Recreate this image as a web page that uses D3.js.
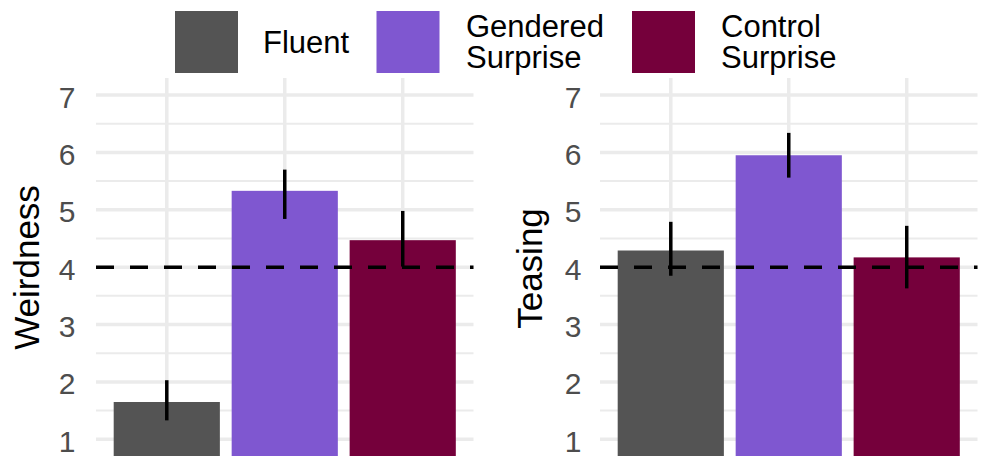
<!DOCTYPE html>
<html>
<head>
<meta charset="utf-8">
<script src="https://cdn.jsdelivr.net/npm/d3@7"></script>
<style>
  html, body { margin: 0; padding: 0; background: #fff; }
  svg { display: block; font-family: "Liberation Sans", Arial, Helvetica, sans-serif; }
</style>
</head>
<body>
<svg id="chart" width="987" height="456"></svg>
<script>
// Conditions shown in both panels
const conditions = ["Fluent", "Gendered Surprise", "Control Surprise"];
const conditionColors = ["#545454", "#7F57D0", "#75003B"];

// Mean ratings and interval bounds per condition
const weirdnessMean  = [1.65, 5.33, 4.47];
const weirdnessLower = [1.33, 4.84, 4.01];
const weirdnessUpper = [2.03, 5.70, 4.98];

const teasingMean  = [4.29, 5.95, 4.17];
const teasingLower = [3.85, 5.56, 3.63];
const teasingUpper = [4.79, 6.34, 4.72];

const yTicks = [1, 2, 3, 4, 5, 6, 7];
const yMinorTicks = [0.5, 1.5, 2.5, 3.5, 4.5, 5.5, 6.5];
const referenceLevel = 4;

const svg = d3.select("#chart");

const y = d3.scaleLinear().domain([1, 7]).range([439.3, 95]);
const color = d3.scaleOrdinal().domain(conditions).range(conditionColors);

function drawPanel(opts) {
  const { left, right, title, titleX, titleY, tickX, mean, lower, upper } = opts;
  const g = svg.append("g");
  const x = d3.scaleBand().domain(conditions).range([left, right])
    .paddingInner(0.1).paddingOuter(0.15);
  const cx = c => x(c) + x.bandwidth() / 2;
  const panelTop = 78;

  // minor horizontal grid
  g.selectAll("line.minor").data(yMinorTicks).join("line")
    .attr("x1", left).attr("x2", right)
    .attr("y1", d => y(d)).attr("y2", d => y(d))
    .attr("stroke", "#EBEBEB").attr("stroke-width", 2);

  // major horizontal grid
  g.selectAll("line.major").data(yTicks).join("line")
    .attr("x1", left).attr("x2", right)
    .attr("y1", d => y(d)).attr("y2", d => y(d))
    .attr("stroke", "#EBEBEB").attr("stroke-width", 3.5);

  // vertical grid at each condition
  g.selectAll("line.vgrid").data(conditions).join("line")
    .attr("x1", cx).attr("x2", cx)
    .attr("y1", panelTop).attr("y2", y(0))
    .attr("stroke", "#EBEBEB").attr("stroke-width", 3.5);

  // y tick labels
  const axis = d3.axisLeft(y).tickValues(yTicks).tickSize(0).tickPadding(0)
    .tickFormat(d3.format("d"));
  const ax = g.append("g").attr("transform", `translate(${tickX},0)`).call(axis);
  ax.select(".domain").remove();
  ax.selectAll("text")
    .attr("font-size", 30).attr("fill", "#4D4D4D")
    .attr("font-family", "'Liberation Sans', Arial, sans-serif")
    .attr("dy", "0.4em");

  // bars
  g.selectAll("rect.bar").data(conditions).join("rect")
    .attr("x", c => x(c))
    .attr("width", x.bandwidth())
    .attr("y", (c, i) => y(mean[i]))
    .attr("height", (c, i) => y(0) - y(mean[i]))
    .attr("fill", c => color(c));

  // reference line
  g.append("line")
    .attr("x1", left).attr("x2", right)
    .attr("y1", y(referenceLevel)).attr("y2", y(referenceLevel))
    .attr("stroke", "#000").attr("stroke-width", 3.5)
    .attr("stroke-dasharray", "18,16");

  // intervals
  g.selectAll("line.err").data(conditions).join("line")
    .attr("x1", cx).attr("x2", cx)
    .attr("y1", (c, i) => y(lower[i])).attr("y2", (c, i) => y(upper[i]))
    .attr("stroke", "#000").attr("stroke-width", 3.5);

  // axis title
  g.append("text")
    .attr("transform", `translate(${titleX},${titleY}) rotate(-90)`)
    .attr("text-anchor", "middle")
    .attr("font-size", 35).attr("fill", "#000")
    .text(title);
}

drawPanel({ left: 96, right: 473.5, title: "Weirdness", titleX: 38.5, titleY: 267.5, tickX: 75.5,
  mean: weirdnessMean, lower: weirdnessLower, upper: weirdnessUpper });
drawPanel({ left: 600, right: 977.5, title: "Teasing", titleX: 541.5, titleY: 268.5, tickX: 581.5,
  mean: teasingMean, lower: teasingLower, upper: teasingUpper });

// legend
const legendItems = [
  { key: conditions[0], lines: ["Fluent"], boxX: 175, textX: 263 },
  { key: conditions[1], lines: ["Gendered", "Surprise"], boxX: 376.5, textX: 466 },
  { key: conditions[2], lines: ["Control", "Surprise"], boxX: 632, textX: 721 }
];
const legend = svg.append("g");
legendItems.forEach(item => {
  legend.append("rect")
    .attr("x", item.boxX).attr("y", 11)
    .attr("width", 63).attr("height", 62)
    .attr("fill", color(item.key));
  const t = legend.append("text")
    .attr("font-size", 31).attr("fill", "#000");
  if (item.lines.length === 1) {
    t.append("tspan").attr("x", item.textX).attr("y", 53).text(item.lines[0]);
  } else {
    item.lines.forEach((ln, k) => {
      t.append("tspan").attr("x", item.textX).attr("y", 37 + k * 31).text(ln);
    });
  }
});
</script>
</body>
</html>
